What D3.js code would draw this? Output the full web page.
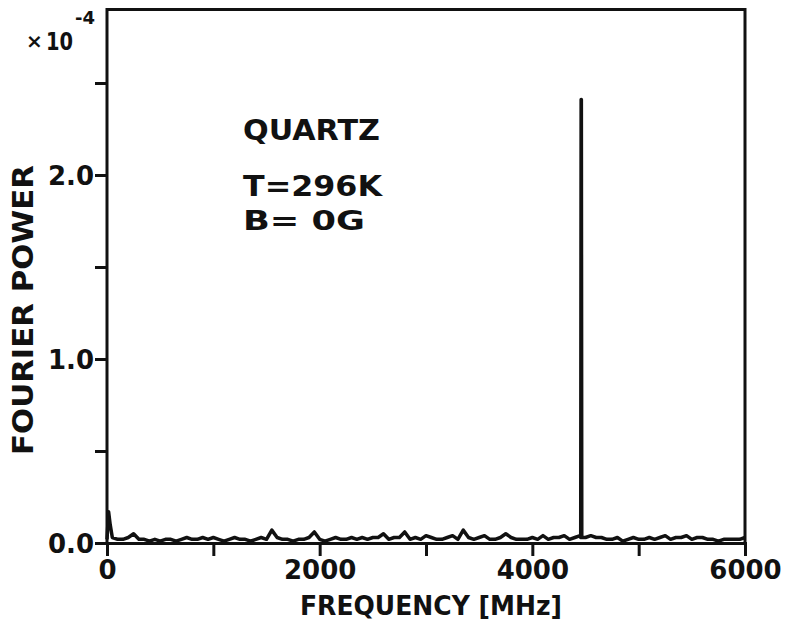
<!DOCTYPE html>
<html>
<head>
<meta charset="utf-8">
<script src="https://cdn.jsdelivr.net/npm/d3@7"></script>
<style>
  body { margin: 0; background: #fff; }
  svg text { font-family: "DejaVu Sans", "Liberation Sans", sans-serif; font-weight: bold; fill: #111; }
</style>
</head>
<body>
<div class="chart"></div>
<script>
let width = 787,
    height = 621;

// Fourier power (x10^-4) sampled every 50 MHz, 0 .. 6000 MHz
let noiseStep = 50;
let noise = [
  0.02,0.03,0.02,0.02,0.03,0.05,0.02,0.02,0.01,0.02,
  0.01,0.02,0.02,0.01,0.02,0.03,0.02,0.02,0.03,0.02,
  0.03,0.02,0.01,0.02,0.03,0.02,0.02,0.01,0.02,0.03,
  0.02,0.07,0.03,0.02,0.02,0.01,0.02,0.02,0.03,0.06,
  0.02,0.01,0.02,0.03,0.02,0.02,0.03,0.02,0.03,0.02,
  0.03,0.03,0.05,0.02,0.03,0.03,0.06,0.02,0.03,0.02,
  0.04,0.03,0.02,0.02,0.03,0.04,0.02,0.07,0.03,0.02,
  0.03,0.04,0.02,0.02,0.03,0.05,0.03,0.02,0.02,0.02,
  0.03,0.02,0.04,0.02,0.03,0.03,0.04,0.02,0.03,0.04,
  0.03,0.04,0.03,0.03,0.02,0.02,0.03,0.01,0.02,0.03,
  0.02,0.02,0.03,0.02,0.03,0.04,0.02,0.03,0.03,0.04,
  0.02,0.03,0.03,0.02,0.02,0.01,0.02,0.02,0.02,0.02,
  0.03
];

// the sharp lines
let peakFreq  = [15, 30, 4455, 4459, 4461, 4465];
let peakPower = [0.17, 0.10, 0.03, 2.41, 2.41, 0.03];

let xTicks = [0, 1000, 2000, 3000, 4000, 5000, 6000];
let xLabels = [0, 2000, 4000, 6000];
let yTicks = [0, 0.5, 1.0, 1.5, 2.0, 2.5];
let yLabels = [0, 1.0, 2.0];

let pts = noise.map((v, i) => ({f: i * noiseStep, p: v}))
  .concat(peakFreq.map((f, i) => ({f: f, p: peakPower[i]})))
  .sort((a, b) => a.f - b.f);

let x = d3.scaleLinear().domain([0, 6000]).range([107, 745]);
let y = d3.scaleLinear().domain([0, 2.9]).range([543, 9.4]);

let svg = d3.select('.chart').append('svg')
    .attr('width', width)
    .attr('height', height);

// frame (left, top, right) -- bottom is the axis line
svg.append('path')
    .attr('d', `M${x(0)},${y(0)} V${y(2.9)} H${x(6000)} V${y(0)}`)
    .attr('fill', 'none')
    .attr('stroke', '#111')
    .attr('stroke-width', 3);

let xAxis = svg.append('g')
    .attr('transform', `translate(0,${y(0)})`)
    .call(d3.axisBottom(x).tickValues(xTicks).tickSize(13)
      .tickFormat(d => xLabels.includes(d) ? d : ''));
xAxis.select('.domain').attr('stroke', '#111').attr('stroke-width', 3);
xAxis.selectAll('line').attr('stroke', '#111').attr('stroke-width', 3);
xAxis.selectAll('text')
    .attr('y', 36)
    .attr('dy', 0)
    .style('font-size', '26px');

let yAxis = svg.append('g')
    .attr('transform', `translate(${x(0)},0)`)
    .call(d3.axisLeft(y).tickValues(yTicks).tickSize(12)
      .tickFormat(d => yLabels.includes(d) ? d3.format('.1f')(d) : ''));
yAxis.select('.domain').remove();
yAxis.selectAll('line').attr('stroke', '#111').attr('stroke-width', 3);
yAxis.selectAll('text')
    .attr('x', -13)
    .attr('dy', '0.36em')
    .style('font-size', '26px');

// spectrum
let line = d3.line().x(d => x(d.f)).y(d => y(d.p));
svg.append('path')
    .datum(pts)
    .attr('d', line)
    .attr('fill', 'none')
    .attr('stroke', '#111')
    .attr('stroke-width', 3.5)
    .attr('stroke-linejoin', 'round');

// axis titles
svg.append('text')
    .attr('x', 300).attr('y', 615)
    .attr('textLength', 262).attr('lengthAdjust', 'spacingAndGlyphs')
    .style('font-size', '26px')
    .text('FREQUENCY [MHz]');

svg.append('text')
    .attr('transform', 'translate(33,310) rotate(-90)')
    .attr('text-anchor', 'middle')
    .attr('textLength', 290).attr('lengthAdjust', 'spacingAndGlyphs')
    .style('font-size', '28px')
    .text('FOURIER POWER');

// multiplier
svg.append('text').attr('x', 26).attr('y', 48).style('font-size', '20px').text('×');
svg.append('text').attr('x', 46).attr('y', 50).attr('textLength', 27)
    .attr('lengthAdjust', 'spacingAndGlyphs').style('font-size', '25px').text('10');
svg.append('text').attr('x', 75).attr('y', 24).style('font-size', '18px').text('-4');

// annotation
let notes = [
  {t: 'QUARTZ', y: 140, w: 137, s: 28},
  {t: 'T=296K', y: 196, w: 139, s: 29},
  {t: 'B= 0G',  y: 230, w: 122, s: 27}
];
svg.selectAll('.note')
    .data(notes)
    .join('text')
    .attr('class', 'note')
    .attr('x', 243)
    .attr('y', d => d.y)
    .attr('textLength', d => d.w)
    .attr('lengthAdjust', 'spacingAndGlyphs')
    .style('font-size', d => d.s + 'px')
    .text(d => d.t);
</script>
</body>
</html>
